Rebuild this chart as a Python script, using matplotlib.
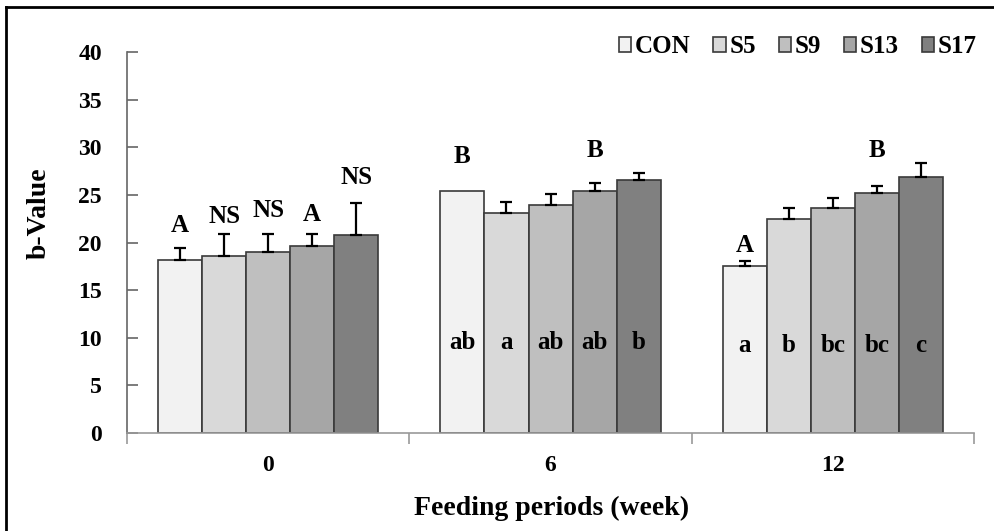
import numpy as np
import matplotlib
matplotlib.use("Agg")
import matplotlib.pyplot as plt
from matplotlib.lines import Line2D

plt.rcParams['font.family'] = ['Liberation Serif', 'DejaVu Serif']
plt.rcParams['font.weight'] = 'bold'

# data
weeks = ['0', '6', '12']
groups = ['CON', 'S5', 'S9', 'S13', 'S17']
means = {
    'CON': [18.2, 25.4, 17.5],
    'S5':  [18.6, 23.1, 22.5],
    'S9':  [19.0, 23.9, 23.6],
    'S13': [19.6, 25.4, 25.2],
    'S17': [20.8, 26.6, 26.9],
}
errs = {
    'CON': [1.2, 0.0, 0.6],
    'S5':  [2.3, 1.2, 1.1],
    'S9':  [1.9, 1.2, 1.1],
    'S13': [1.3, 0.8, 0.7],
    'S17': [3.3, 0.7, 1.5],
}
top_letters = {
    'CON': ['A', 'B', 'A'],
    'S5':  ['NS', '', ''],
    'S9':  ['NS', '', ''],
    'S13': ['A', 'B', 'B'],
    'S17': ['NS', '', ''],
}
inner_letters = {
    'CON': ['', 'ab', 'a'],
    'S5':  ['', 'a', 'b'],
    'S9':  ['', 'ab', 'bc'],
    'S13': ['', 'ab', 'bc'],
    'S17': ['', 'b', 'c'],
}
colors = ['#f2f2f2', '#d9d9d9', '#bfbfbf', '#a6a6a6', '#808080']

# where the letters sit (layout only)
top_y = {
    'CON': [21.8, 29.0, 19.7],
    'S5':  [22.7, 0, 0],
    'S9':  [23.4, 0, 0],
    'S13': [22.9, 29.7, 29.7],
    'S17': [26.8, 0, 0],
}
inner_y = [0, 9.5, 9.2]

fig = plt.figure(figsize=(9.95, 5.31), dpi=100)
ax = fig.add_axes([0.1276, 0.1846, 0.979 - 0.1276, 0.902 - 0.1846])

x = np.arange(len(weeks))
w = 0.156
for i, g in enumerate(groups):
    xs = x + (i - 2) * w
    ax.bar(xs, means[g], width=w, color=colors[i], edgecolor='#3a3a3a',
           linewidth=1.2, label=g, zorder=2)
    for j in range(len(weeks)):
        if errs[g][j] > 0:
            ax.errorbar(xs[j], means[g][j], yerr=[[0], [errs[g][j]]], fmt='none',
                        ecolor='black', elinewidth=1.6, capsize=4, capthick=1.6, zorder=3)
        if top_letters[g][j]:
            ax.text(xs[j], top_y[g][j], top_letters[g][j], ha='center', va='center',
                    fontsize=18, fontweight='bold')
        if inner_letters[g][j]:
            ax.text(xs[j], inner_y[j], inner_letters[g][j], ha='center', va='center',
                    fontsize=18, fontweight='bold')

ax.set_xlim(-0.5, 2.5)
ax.set_ylim(0, 40)
ax.set_yticks(np.arange(0, 41, 5))
ax.set_xticks(x)
ax.set_xticklabels(weeks)
ax.set_xticks([-0.5, 0.5, 1.5, 2.5], minor=True)
ax.tick_params(axis='x', which='major', length=0, pad=16, labelsize=17)
ax.tick_params(axis='x', which='minor', length=8, color='#999999', width=1.2)
ax.tick_params(axis='y', direction='in', length=8, color='#666666', width=1.2,
               labelsize=17, pad=18)
for s in ['top', 'right']:
    ax.spines[s].set_visible(False)
ax.spines['left'].set_color('#666666')
ax.spines['bottom'].set_color('#999999')
ax.spines['left'].set_linewidth(1.2)
ax.spines['bottom'].set_linewidth(1.2)

fig.text(39 / 995, 1 - 213 / 531, 'b-Value', rotation=90, ha='center', va='center',
         fontsize=20, fontweight='bold')
fig.text(552 / 995, 1 - 508 / 531, 'Feeding periods (week)', ha='center', va='center',
         fontsize=20, fontweight='bold')

ax.legend(loc='upper right', bbox_to_anchor=(1.015, 1.07), ncol=5, frameon=False,
          fontsize=18, handlelength=0.5, handleheight=0.5, handletextpad=0.15,
          columnspacing=0.9, borderaxespad=0)

# frame lines along left and top of the picture
fig.add_artist(Line2D([6 / 995, 6 / 995], [0, 1 - 7 / 531], color='black', lw=2))
fig.add_artist(Line2D([6 / 995, 1], [1 - 7 / 531, 1 - 7 / 531], color='black', lw=2))

fig.savefig('out.png', dpi=100)
